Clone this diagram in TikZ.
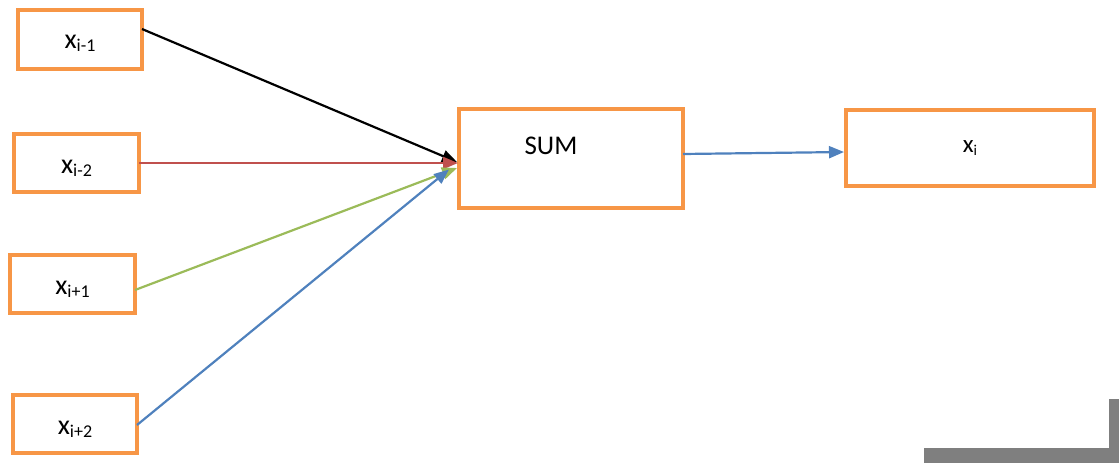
\documentclass[tikz,border=0pt]{standalone}
\usepackage{fontspec}
\setmainfont{Carlito}
\usetikzlibrary{arrows.meta,calc}
\definecolor{boxorange}{HTML}{F79646}
\definecolor{arrblue}{HTML}{4F81BD}
\definecolor{arrred}{HTML}{C0504D}
\definecolor{arrgreen}{HTML}{9BBB59}
\definecolor{cornergray}{HTML}{7F7F7F}
\newcommand{\xsub}[2][18]{x{\fontsize{#1}{#1}\selectfont\raisebox{-3pt}{#2}}}
\tikzset{
  obox/.style={draw=boxorange, line width=4pt, fill=white, rectangle, inner sep=0pt, outer sep=0pt},
  lbl/.style={font=\fontsize{28}{28}\selectfont, inner sep=0pt},
  conn/.style={line width=2.2pt, -{Triangle[length=15pt,width=12pt]}}
}
\begin{document}
\begin{tikzpicture}[x=1pt,y=-1pt]
\useasboundingbox (0,0) rectangle (1119,463);
% boxes
\node[obox, minimum width=124pt, minimum height=59pt] (b1) at (80,39.5) {};
\node[obox, minimum width=125pt, minimum height=58pt] (b2) at (76.5,163) {};
\node[obox, minimum width=125pt, minimum height=58pt] (b3) at (72.5,284) {};
\node[obox, minimum width=124pt, minimum height=58pt] (b4) at (75,424) {};
\node[obox, minimum width=224pt, minimum height=99pt] (sum) at (571,158.5) {};
\node[obox, minimum width=248pt, minimum height=76pt] (xi) at (970,148) {};
% labels
\node[lbl] (t1) at ($(b1.center)+(0,4)$) {\xsub{i-1}};
\node[lbl] (t2) at ($(b2.center)+(0,5)$) {\xsub{i-2}};
\node[lbl] (t3) at ($(b3.center)+(0,5)$) {\xsub{i+1}};
\node[lbl] (t4) at ($(b4.center)+(0,5)$) {\xsub{i+2}};
\node[lbl, font=\fontsize{27}{27}\selectfont] (ts) at ($(sum.center)+(-20,-13)$) {SUM};
\node[lbl, font=\fontsize{25}{25}\selectfont] (tx) at ($(xi.center)+(0,0)$) {\xsub[15]{i}};
% connectors
\draw[conn, black] ([yshift=10.5pt]b1.east) -- ([xshift=-2pt,yshift=-3.5pt]sum.west);
\draw[conn, arrred] (b2.east) -- ([xshift=-1pt,yshift=-4.5pt]sum.west);
\draw[conn, arrgreen] ([yshift=-6pt]b3.east) -- ([xshift=-2pt,yshift=-9.5pt]sum.west);
\draw[conn, arrblue] ([yshift=-1pt]b4.east) -- ([xshift=-10pt,yshift=-11pt]sum.west);
\draw[conn, arrblue] ([yshift=4.5pt]sum.east) -- ([xshift=-2pt,yshift=-4pt]xi.west);
% grey corner
\fill[cornergray] (1109,399) rectangle (1119,463);
\fill[cornergray] (924,448) rectangle (1119,463);
\end{tikzpicture}
\end{document}
